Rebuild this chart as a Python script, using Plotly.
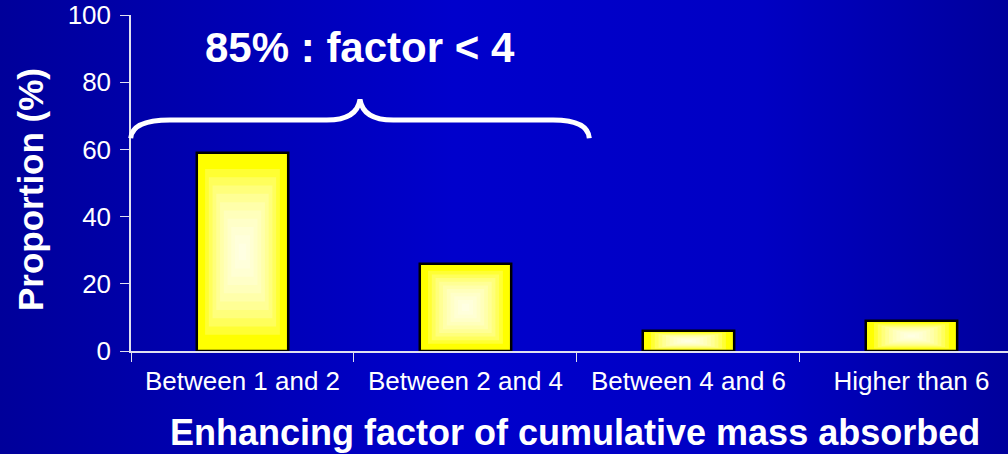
import base64
import plotly.graph_objects as go

# data
categories = ['Between 1 and 2', 'Between 2 and 4', 'Between 4 and 6', 'Higher than 6']
proportion = [59, 26, 6, 9]
y_ticks = [0, 20, 40, 60, 80, 100]

W, H = 1008, 454
left, top, bottom = 131, 15, 103
plot_w = W - left
plot_h = H - top - bottom
FONT = 'Liberation Sans, Arial, sans-serif'
bar_w = 0.41


def px(x):
    return (x - left) / plot_w


def py(y):
    return (H - bottom - y) / plot_h


# blue slide background as an svg gradient
svg = (
    "<svg xmlns='http://www.w3.org/2000/svg' width='1008' height='454' preserveAspectRatio='none'>"
    "<defs><linearGradient id='g' x1='0' x2='1' y1='0' y2='0'>"
    "<stop offset='0' stop-color='#00009A'/>"
    "<stop offset='0.45' stop-color='#0000CC'/>"
    "<stop offset='0.75' stop-color='#0000C4'/>"
    "<stop offset='1' stop-color='#00009C'/>"
    "</linearGradient></defs>"
    "<rect width='1008' height='454' fill='url(#g)'/></svg>"
)
bg_src = 'data:image/svg+xml;base64,' + base64.b64encode(svg.encode()).decode()

fig = go.Figure()

# main yellow bars with black outline
fig.add_trace(go.Bar(
    x=categories, y=proportion, width=bar_w,
    marker=dict(color='#FFFF00', line=dict(color='black', width=2.5)),
    hoverinfo='skip', showlegend=False,
))

# stacked translucent white layers to fake the radial highlight
n_layers = 10
for k in range(1, n_layers + 1):
    t = k / (n_layers + 1)
    hf = (1 - t) * 0.92
    fig.add_trace(go.Bar(
        x=categories,
        y=[v * hf for v in proportion],
        base=[v * (1 - hf) / 2 for v in proportion],
        width=bar_w * (1 - t) * 0.9,
        marker=dict(color='white', opacity=0.2, line=dict(width=0)),
        hoverinfo='skip', showlegend=False,
    ))

# curly brace over the first two categories
pts = dict(l=(130.7, 138.3), hl=(170, 120), hm1=(326.7, 120), pk=(360, 99.3),
           hm2=(393.3, 120), hr=(553, 120), r=(589.3, 138.3))
P = {k: (px(a), py(b)) for k, (a, b) in pts.items()}
path = (
    f"M {P['l'][0]},{P['l'][1]} "
    f"Q {px(132)},{P['hl'][1]} {P['hl'][0]},{P['hl'][1]} "
    f"L {P['hm1'][0]},{P['hm1'][1]} "
    f"Q {px(357)},{P['hm1'][1]} {P['pk'][0]},{P['pk'][1]} "
    f"Q {px(363)},{P['hm2'][1]} {P['hm2'][0]},{P['hm2'][1]} "
    f"L {P['hr'][0]},{P['hr'][1]} "
    f"Q {px(588)},{P['hr'][1]} {P['r'][0]},{P['r'][1]}"
)
fig.add_shape(type='path', path=path, xref='paper', yref='paper',
              line=dict(color='white', width=5))

fig.add_annotation(text='<b>85% : factor &lt; 4</b>', x=px(360), y=py(48),
                   xref='paper', yref='paper', showarrow=False,
                   xanchor='center', yanchor='middle',
                   font=dict(family=FONT, size=42, color='white'))
fig.add_annotation(text='<b>Proportion (%)</b>', x=px(31), y=py(190),
                   xref='paper', yref='paper', showarrow=False, textangle=-90,
                   xanchor='center', yanchor='middle',
                   font=dict(family=FONT, size=35, color='white'))
fig.add_annotation(text='<b>Enhancing factor of cumulative mass absorbed</b>',
                   x=px(575), y=py(432), xref='paper', yref='paper', showarrow=False,
                   xanchor='center', yanchor='middle',
                   font=dict(family=FONT, size=36, color='white'))

fig.update_layout(
    width=W, height=H,
    margin=dict(l=left, r=0, t=top, b=bottom),
    barmode='overlay',
    paper_bgcolor='#0000C0',
    plot_bgcolor='rgba(0,0,0,0)',
    font=dict(family=FONT, color='white'),
    images=[dict(source=bg_src, xref='paper', yref='paper',
                 x=-left / plot_w, y=1 + top / plot_h,
                 sizex=W / plot_w, sizey=H / plot_h,
                 sizing='stretch', layer='below')],
    xaxis=dict(
        type='category', range=[-0.5, 3.433],
        showline=True, linecolor='#E0E0F0', linewidth=1.5,
        ticks='outside', tickson='boundaries', ticklen=9, tickcolor='#E0E0F0',
        ticklabelstandoff=6,
        tickfont=dict(size=26, color='white'), showgrid=False, zeroline=False,
    ),
    yaxis=dict(
        range=[0, 100], tickvals=y_ticks,
        showline=True, linecolor='#E0E0F0', linewidth=1.5,
        ticks='outside', ticklen=9, tickcolor='#E0E0F0',
        ticklabelstandoff=4,
        tickfont=dict(size=26, color='white'), showgrid=False, zeroline=False,
    ),
)

fig.write_html('out.html', config={'displayModeBar': False},
               post_script="document.body.style.margin='0';")
